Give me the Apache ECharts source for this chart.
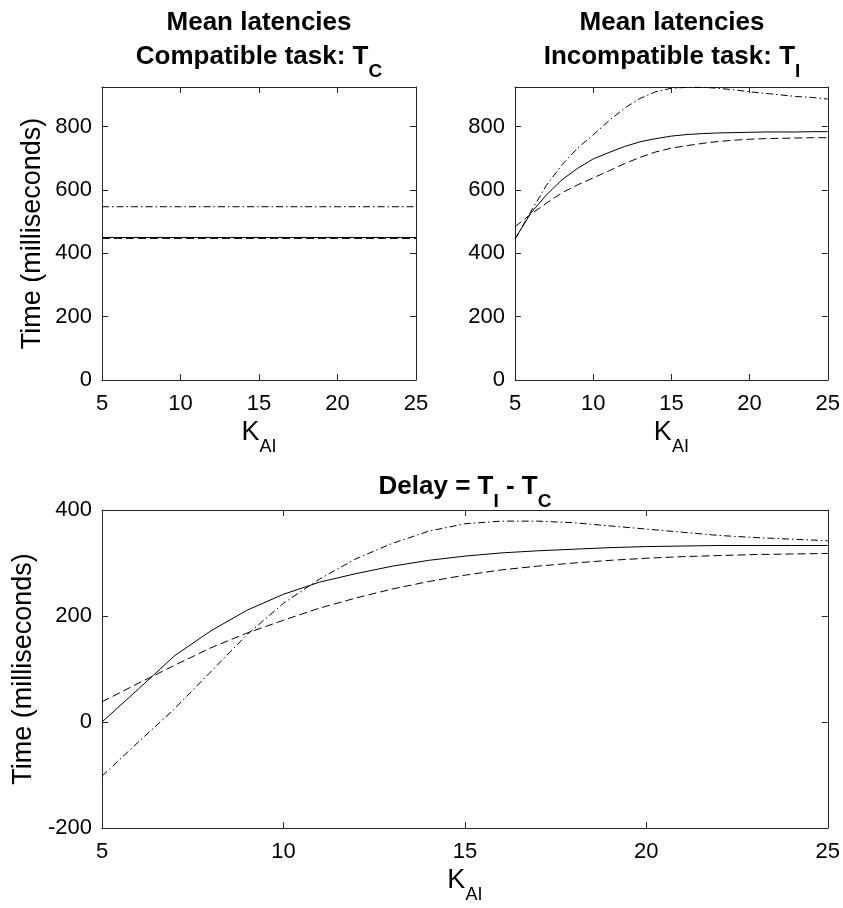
<!DOCTYPE html>
<html>
<head>
<meta charset="utf-8">
<script src="https://cdn.jsdelivr.net/npm/echarts@6/dist/echarts.min.js"></script>
<style>
  html, body { margin: 0; padding: 0; background: #fff; }
  #chart { width: 843px; height: 908px; }
</style>
</head>
<body>
<div id="chart"></div>
<script>
// K_AI values on the x axis
const kAI = [5, 6, 7, 8, 9, 10, 11, 12, 13, 14, 15, 16, 17, 18, 19, 20, 21, 22, 23, 24, 25];

// compatible task T_C (ms)
const tcSolid   = [450, 450, 450, 450, 450, 450, 450, 450, 450, 450, 450, 450, 450, 450, 450, 450, 450, 450, 450, 450, 450];
const tcDashed  = [447, 447, 447, 447, 447, 447, 447, 447, 447, 447, 447, 447, 447, 447, 447, 447, 447, 447, 447, 447, 447];
const tcDashDot = [547, 547, 547, 547, 547, 547, 547, 547, 547, 547, 547, 547, 547, 547, 547, 547, 547, 547, 547, 547, 547];

// incompatible task T_I (ms)
const tiSolid   = [445, 526, 584, 632, 668, 698, 718, 737, 752, 762, 770, 775, 778, 780, 781, 782, 783, 783, 783, 784, 784];
const tiDashed  = [484, 523, 558, 591, 616, 638, 660, 683, 703, 720, 732, 740, 747, 753, 757, 760, 762, 763, 764, 765, 765];
const tiDashDot = [445, 530, 614, 679, 732, 774, 818, 858, 889, 910, 921, 924, 924, 921, 916, 910, 905, 900, 895, 892, 887];

// delay T_I - T_C (ms)
const delaySolid   = [0, 62, 125, 172, 211, 241, 264, 280, 294, 305, 313, 319, 323, 326, 329, 331, 332, 333, 333, 333, 333];
const delayDashed  = [38, 73, 107, 140, 168, 192, 215, 234, 251, 265, 277, 287, 294, 300, 305, 309, 312, 314, 316, 317, 318];
const delayDashDot = [-102, -38, 25, 95, 165, 224, 270, 308, 337, 360, 374, 379, 379, 376, 370, 364, 358, 352, 348, 345, 342];

const yTicksTop = [0, 200, 400, 600, 800];
const yTicksBottom = [-200, 0, 200, 400];

const FONT = '"Liberation Sans", Arial, sans-serif';
const AXIS = '#262626';

const grids = [
  { left: 102, top: 87, width: 314, height: 293 },
  { left: 515, top: 87, width: 314, height: 293 },
  { left: 102, top: 510, width: 727, height: 318 }
];
const yRange = [[0, 925], [0, 925], [-200, 400]];

const kName = '{k|K}{s|AI}';
const kRich = {
  k: { fontSize: 27, fontFamily: FONT, color: '#000', lineHeight: 40, verticalAlign: 'top', padding: [3, 0, 0, 0] },
  s: { fontSize: 18, fontFamily: FONT, color: '#000', lineHeight: 40, verticalAlign: 'bottom' }
};

const xAxes = [];
const yAxes = [];
grids.forEach((g, i) => {
  xAxes.push({
    type: 'value', gridIndex: i, min: 5, max: 25, interval: 5,
    name: kName, nameLocation: 'middle', nameGap: 27,
    nameTextStyle: { rich: kRich },
    axisLine: { onZero: false, lineStyle: { color: AXIS, width: 1 } },
    axisTick: { inside: true, length: 6, lineStyle: { color: AXIS } },
    axisLabel: { fontSize: 22, fontFamily: FONT, color: '#000', margin: 13 },
    splitLine: { show: false }
  });
  yAxes.push({
    type: 'value', gridIndex: i, min: yRange[i][0], max: yRange[i][1], interval: 200,
    name: i === 1 ? '' : 'Time (milliseconds)', nameLocation: 'middle', nameGap: 56,
    nameTextStyle: { fontSize: 27, fontFamily: FONT, color: '#000' },
    axisLine: { lineStyle: { color: AXIS, width: 1 } },
    axisTick: { inside: true, length: 6, lineStyle: { color: AXIS } },
    axisLabel: {
      fontSize: 22, fontFamily: FONT, color: '#000', margin: 10,
      formatter: v => ((i === 2 ? yTicksBottom : yTicksTop).includes(v) ? String(v) : '')
    },
    splitLine: { show: false }
  });
});
// box: top and right axes with inward ticks
grids.forEach((g, i) => {
  xAxes.push({
    type: 'value', gridIndex: i, min: 5, max: 25, interval: 5, position: 'top',
    axisLine: { onZero: false, lineStyle: { color: AXIS, width: 1 } },
    axisTick: { inside: true, length: 6, lineStyle: { color: AXIS } },
    axisLabel: { show: false }, splitLine: { show: false }
  });
  yAxes.push({
    type: 'value', gridIndex: i, min: yRange[i][0], max: yRange[i][1], interval: 200, position: 'right',
    axisLine: { onZero: false, lineStyle: { color: AXIS, width: 1 } },
    axisTick: { inside: true, length: 6, lineStyle: { color: AXIS } },
    axisLabel: { show: false }, splitLine: { show: false }
  });
});

const pairs = arr => kAI.map((k, i) => [k, arr[i]]);
const styles = {
  solid: 'solid',
  dashed: [8, 4],
  dashDot: [7, 3, 1.5, 3]
};
function line(idx, arr, type) {
  return {
    type: 'line', xAxisIndex: idx, yAxisIndex: idx, data: pairs(arr),
    showSymbol: false, smooth: false, animation: false, silent: true,
    lineStyle: { color: '#000', width: 1, type: type }
  };
}

const titleRich = {
  b: { fontSize: 26, fontWeight: 'bold', fontFamily: FONT, color: '#000', lineHeight: 40, verticalAlign: 'top', padding: [3, 0, 0, 0] },
  s: { fontSize: 19, fontWeight: 'bold', fontFamily: FONT, color: '#000', lineHeight: 40, verticalAlign: 'bottom' }
};
function title(text, x, top) {
  return { text: text, left: x, top: top, textAlign: 'center', padding: 0, textStyle: { rich: titleRich } };
}

const chart = echarts.init(document.getElementById('chart'), null, { renderer: 'canvas' });
chart.setOption({
  backgroundColor: '#fff',
  animation: false,
  title: [
    title('{b|Mean latencies}', 259, 7),
    title('{b|Compatible task: T}{s|C}', 259, 41),
    title('{b|Mean latencies}', 672, 7),
    title('{b|Incompatible task: T}{s|I}', 672, 41),
    title('{b|Delay = T}{s|I}{b| - T}{s|C}', 465, 471)
  ],
  grid: grids,
  xAxis: xAxes,
  yAxis: yAxes,
  series: [
    line(0, tcDashDot, styles.dashDot),
    line(0, tcDashed, styles.dashed),
    line(0, tcSolid, styles.solid),
    line(1, tiDashDot, styles.dashDot),
    line(1, tiDashed, styles.dashed),
    line(1, tiSolid, styles.solid),
    line(2, delayDashDot, styles.dashDot),
    line(2, delayDashed, styles.dashed),
    line(2, delaySolid, styles.solid)
  ]
});
</script>
</body>
</html>
